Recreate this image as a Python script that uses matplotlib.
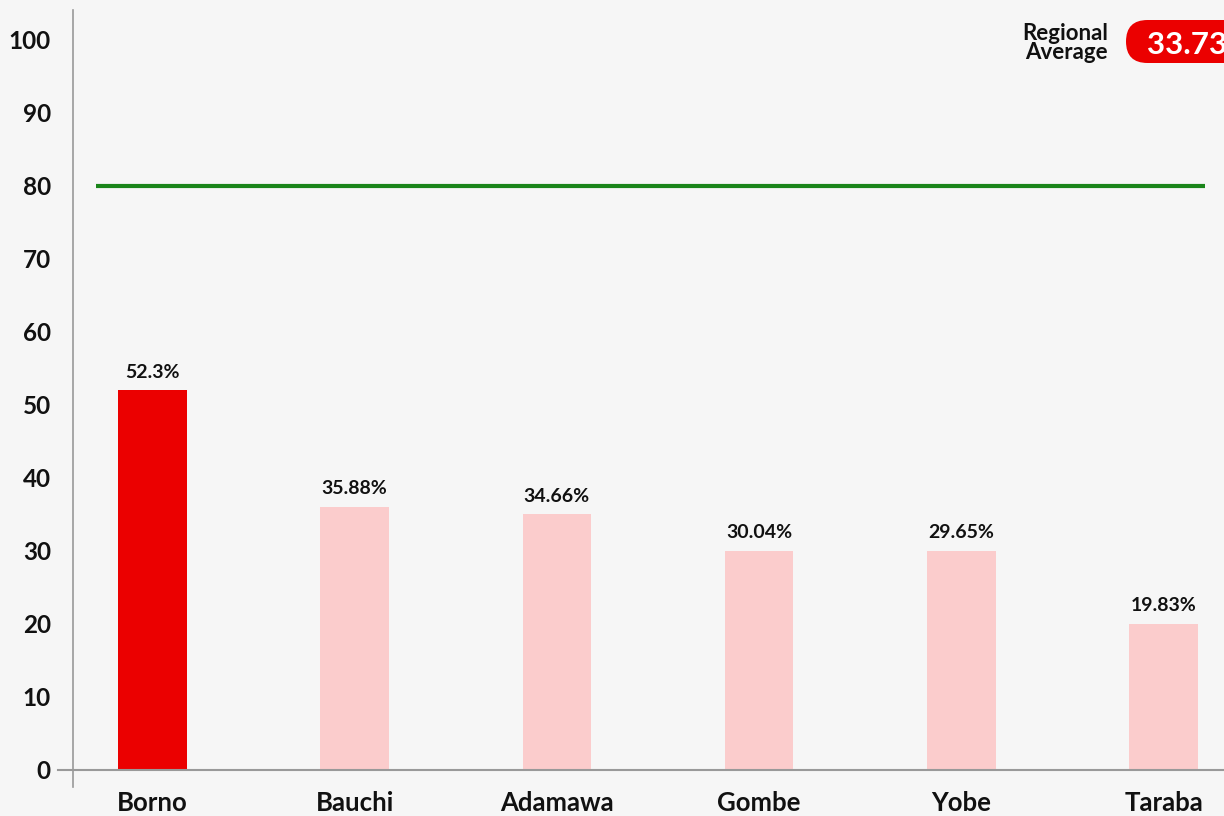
import matplotlib
matplotlib.use("Agg")
import matplotlib.pyplot as plt
from matplotlib.lines import Line2D
from matplotlib.patches import FancyBboxPatch

states = ["Borno", "Bauchi", "Adamawa", "Gombe", "Yobe", "Taraba"]
# bar heights as drawn in the picture (rounded), and the printed labels
bar_heights = [52, 36, 35, 30, 30, 20]
value_labels = ["52.3%", "35.88%", "34.66%", "30.04%", "29.65%", "19.83%"]
highlight = "Borno"
target = 80
regional_average = "33.73"
yticks = [0, 10, 20, 30, 40, 50, 60, 70, 80, 90, 100]

BG = "#f6f6f6"
RED = "#eb0000"
PINK = "#fbcccc"
GREEN = "#1a851a"

plt.rcParams['font.family'] = ['Lato', 'DejaVu Sans']

W, H = 1224, 816
fig = plt.figure(figsize=(W / 100, H / 100), dpi=100, facecolor=BG)
ax = fig.add_axes([73 / W, 29 / H, (W - 73) / W, (816 - 10 - 29) / H])
ax.set_facecolor(BG)

x = list(range(len(states)))
colors = [RED if s == highlight else PINK for s in states]
ax.bar(x, bar_heights, width=0.34, color=colors, zorder=2)

for xi, v, lab in zip(x, bar_heights, value_labels):
    ax.annotate(lab, (xi, v), xytext=(0, 7), textcoords="offset points",
                ha="center", va="bottom", fontsize=14, fontweight="bold",
                color="#111111")

ax.plot([-0.28, 5.205], [target, target], color=GREEN, lw=3, zorder=3,
        solid_capstyle="butt")

ax.set_xlim(-0.393, 5.299)
ax.set_ylim(-2.33, 104.1)
ax.set_yticks(yticks)
ax.set_yticklabels([str(t) for t in yticks], fontsize=17.5, fontweight="bold",
                   color="#111111")
ax.set_xticks(x)
ax.set_xticklabels(states, fontsize=18.5, fontweight="bold", color="#111111")
ax.tick_params(axis="y", length=0, pad=16)
ax.tick_params(axis="x", length=0, pad=3)

for side in ["top", "right", "bottom"]:
    ax.spines[side].set_visible(False)
ax.spines["left"].set_color("#999999")
ax.spines["left"].set_linewidth(1.2)

# zero baseline extending past the y axis
y0 = ax.transData.transform((0, 0))[1] / H
fig.add_artist(Line2D([58 / W, 1.0], [y0, y0], transform=fig.transFigure,
                      color="#999999", lw=1.5, zorder=1))

# Regional average badge (pill shape, cut at the right edge as in the source)
fig.text(1108 / W, 1 - 43 / H, "Regional\nAverage", ha="right", va="center",
         fontsize=16, fontweight="bold", color="#111111", linespacing=0.9)
pill = FancyBboxPatch((11.26, (816 - 63) / 100), 1.30, 0.43,
                      boxstyle="round,pad=0,rounding_size=0.215",
                      transform=fig.dpi_scale_trans, fc=RED, ec="none")
fig.add_artist(pill)
fig.text(1147 / W, 1 - 42 / H, regional_average, ha="left", va="center_baseline",
         fontsize=22.5, fontweight="bold", color="white")

fig.savefig("out.png", dpi=100, facecolor=BG)
